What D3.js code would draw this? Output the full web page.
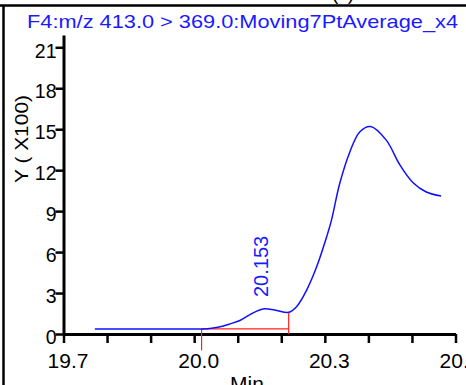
<!DOCTYPE html>
<html>
<head>
<meta charset="utf-8">
<script src="https://cdn.jsdelivr.net/npm/d3@7"></script>
<style>
  html, body { margin: 0; padding: 0; background: #fff; }
  svg { display: block; font-family: "Liberation Sans", Arial, sans-serif; }
</style>
</head>
<body>
<div id="chart"></div>
<script>
// Chromatogram trace (minutes, intensity x100)
const times = [19.772, 19.85, 19.95, 20.02, 20.04, 20.06, 20.08, 20.105, 20.13, 20.158, 20.185, 20.217,
  20.235, 20.258, 20.281, 20.304, 20.315, 20.334, 20.357, 20.38, 20.405, 20.441, 20.472, 20.502, 20.533, 20.567];
const intensity = [0.37, 0.37, 0.37, 0.37, 0.42, 0.53, 0.72, 0.99, 1.45, 1.83, 1.76, 1.59,
  2.0, 3.2, 4.9, 7.1, 8.3, 11.0, 13.3, 14.8, 15.2, 14.2, 12.4, 11.1, 10.4, 10.1];

// integration markers (start / end of the peak)
const peakStart = 20.017, peakEnd = 20.217, peakBase = 0.37, peakEndValue = 1.59;
const peakLabel = "20.153", peakLabelTime = 20.153;

const yTicks = [0, 3, 6, 9, 12, 15, 18, 21];
const xLabels = ["19.7", "20.0", "20.3", "20.6"];
const title = "F4:m/z 413.0 > 369.0:Moving7PtAverage_x4";

const width = 466, height = 385;

const svg = d3.select("#chart")
    .append("svg")
    .attr("width", width)
    .attr("height", height);

// frame
svg.append("line").attr("x1", 0).attr("x2", width).attr("y1", 5.5).attr("y2", 5.5)
    .attr("stroke", "#000").attr("stroke-width", 2.5);
svg.append("line").attr("x1", 3.5).attr("x2", 3.5).attr("y1", 5).attr("y2", height)
    .attr("stroke", "#000").attr("stroke-width", 2.5);
svg.append("text").attr("x", 343).attr("y", 0).attr("font-size", 19)
    .attr("text-anchor", "middle").attr("fill", "#000").text("(x)");

const x = d3.scaleLinear().domain([19.7, 20.6]).range([63.5, 455.5]);
const y = d3.scaleLinear().domain([0, 21.9]).range([334, 35]);

// title
svg.append("text")
    .attr("x", 27).attr("y", 28)
    .attr("font-size", 19)
    .attr("textLength", 431)
    .attr("lengthAdjust", "spacingAndGlyphs")
    .attr("fill", "#1a1aff")
    .text(title);

// x axis
const xAxis = svg.append("g")
    .attr("transform", `translate(0,${y(0)})`)
    .call(d3.axisBottom(x)
        .tickValues(d3.range(0, 10).map(i => 19.7 + i * 0.1))
        .tickSize(9)
        .tickSizeOuter(0)
        .tickFormat((d, i) => i % 3 === 0 ? xLabels[i / 3] : ""));
xAxis.select(".domain").attr("stroke-width", 3);
xAxis.selectAll(".tick line").attr("stroke-width", 2.5);
xAxis.selectAll(".tick text")
    .attr("font-size", 21)
    .attr("font-family", "Liberation Sans, Arial, sans-serif")
    .attr("fill", "#000")
    .attr("dx", 4)
    .attr("y", 19)
    .attr("dy", "0.71em");

// y axis
const yAxis = svg.append("g")
    .attr("transform", `translate(${x(19.7)},0)`)
    .call(d3.axisLeft(y).tickValues(yTicks).tickSize(8).tickSizeOuter(0));
yAxis.select(".domain").attr("stroke-width", 3);
yAxis.selectAll(".tick line").attr("stroke-width", 2.5);
yAxis.selectAll(".tick text")
    .attr("font-size", 19.5)
    .attr("font-family", "Liberation Sans, Arial, sans-serif")
    .attr("fill", "#000")
    .attr("x", -7)
    .attr("dy", "0.5em");

// axis titles
svg.append("text")
    .attr("transform", "translate(28,139) rotate(-90)")
    .attr("text-anchor", "middle")
    .attr("font-size", 19)
    .attr("textLength", 88)
    .attr("lengthAdjust", "spacingAndGlyphs")
    .attr("fill", "#000")
    .text("Y ( X100)");

svg.append("text")
    .attr("x", 247).attr("y", 391)
    .attr("text-anchor", "middle")
    .attr("font-size", 21)
    .attr("fill", "#000")
    .text("Min");

// integration markers
const red = "#ff2020";
svg.append("line")
    .attr("x1", x(peakStart)).attr("x2", x(peakEnd))
    .attr("y1", y(peakBase)).attr("y2", y(peakBase))
    .attr("stroke", red).attr("stroke-width", 1.2);
svg.append("line")
    .attr("x1", x(peakStart)).attr("x2", x(peakStart))
    .attr("y1", y(peakBase)).attr("y2", y(-1.2))
    .attr("stroke", red).attr("stroke-width", 1.2);
svg.append("line")
    .attr("x1", x(peakEnd)).attr("x2", x(peakEnd))
    .attr("y1", y(peakEndValue)).attr("y2", y(0))
    .attr("stroke", red).attr("stroke-width", 1.2);

// trace
const trace = times.map((t, i) => ({t: t, v: intensity[i]}));
const line = d3.line()
    .x(d => x(d.t))
    .y(d => y(d.v))
    .curve(d3.curveCatmullRom.alpha(0.5));

svg.append("path")
    .datum(trace)
    .attr("fill", "none")
    .attr("stroke", "#1010ff")
    .attr("stroke-width", 1.5)
    .attr("d", line);

// peak label
svg.append("text")
    .attr("transform", `translate(${x(peakLabelTime) + 7},297) rotate(-90)`)
    .attr("font-size", 20)
    .attr("fill", "#1a1aff")
    .text(peakLabel);
</script>
</body>
</html>
